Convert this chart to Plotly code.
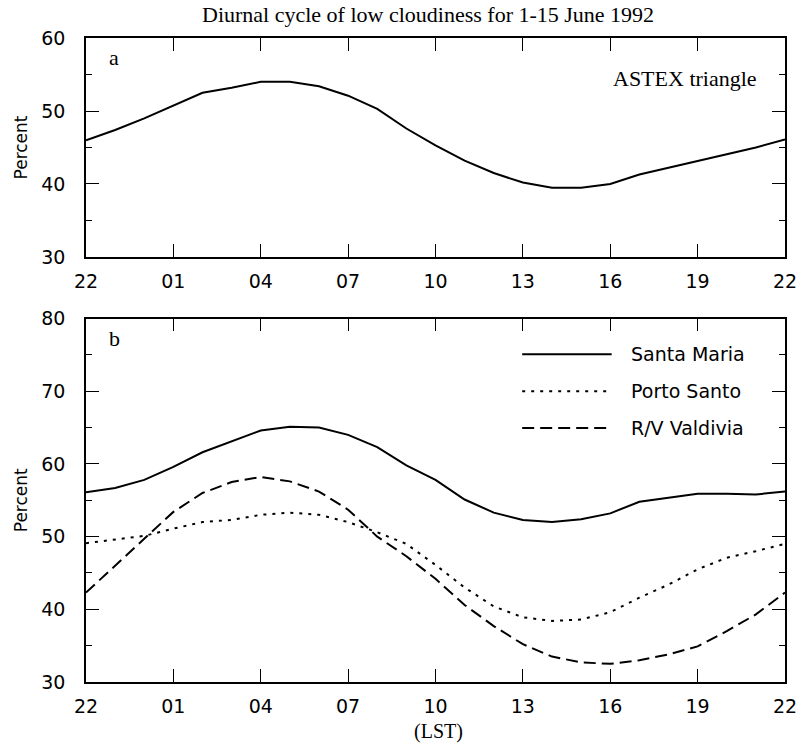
import plotly.graph_objects as go

# Hours since 22 LST (0..24) and their tick labels
hours = list(range(25))
tick_vals = [0, 3, 6, 9, 12, 15, 18, 21, 24]
tick_text = ["22", "01", "04", "07", "10", "13", "16", "19", "22"]

# Panel a: ASTEX triangle low cloudiness (%)
astex = [46.0, 47.4, 49.0, 50.8, 52.5, 53.2, 54.0, 54.0, 53.4, 52.1, 50.3, 47.6,
         45.3, 43.2, 41.5, 40.2, 39.5, 39.5, 40.0, 41.3, 42.2, 43.2, 44.1, 45.0, 46.1]

# Panel b: individual stations (%)
santa_maria = [56.1, 56.7, 57.8, 59.6, 61.6, 63.1, 64.6, 65.1, 65.0, 64.0, 62.3, 59.8,
               57.8, 55.1, 53.3, 52.3, 52.0, 52.4, 53.2, 54.8, 55.4, 55.9, 55.9, 55.8, 56.2]
porto_santo = [49.1, 49.6, 50.1, 51.1, 52.0, 52.3, 53.0, 53.3, 53.0, 52.0, 50.6, 49.0,
               46.1, 43.0, 40.4, 38.9, 38.4, 38.6, 39.6, 41.6, 43.4, 45.5, 47.1, 48.0, 49.0]
valdivia = [42.3, 46.0, 49.7, 53.4, 56.0, 57.5, 58.2, 57.6, 56.2, 53.7, 50.0, 47.3,
            44.2, 40.6, 37.7, 35.2, 33.5, 32.7, 32.5, 33.0, 33.8, 34.9, 37.0, 39.3, 42.3]

# (name, values, line dash) for panel b
series_b = [
    ("Santa Maria", santa_maria, "solid"),
    ("Porto Santo", porto_santo, "3px,6px"),
    ("R/V Valdivia", valdivia, "12px,6px"),
]

SERIF = "Liberation Serif, Times New Roman, serif"
SANS = "DejaVu Sans, sans-serif"

fig = go.Figure()

fig.add_trace(go.Scatter(x=hours, y=astex, mode="lines", xaxis="x", yaxis="y",
                         line=dict(color="black", width=2), showlegend=False))
for name, vals, dash in series_b:
    fig.add_trace(go.Scatter(x=hours, y=vals, mode="lines", xaxis="x2", yaxis="y2",
                             name=name, line=dict(color="black", width=2, dash=dash),
                             showlegend=False))

xcommon = dict(range=[0, 24], tickvals=tick_vals, ticktext=tick_text,
               ticks="inside", ticklen=13, tickwidth=1, tickcolor="black",
               showline=True, linecolor="black", linewidth=1.5, mirror="ticks",
               showgrid=False, zeroline=False, automargin=False,
               ticklabelstandoff=6,
               tickfont=dict(family=SANS, size=19, color="black"))
ycommon = dict(ticks="inside", ticklen=13, tickwidth=1, tickcolor="black",
               showline=True, linecolor="black", linewidth=1.5, mirror="ticks",
               showgrid=False, zeroline=False, automargin=False,
               ticklabelstandoff=15,
               minor=dict(dtick=5, ticks="inside", ticklen=6, tickwidth=1, tickcolor="black"),
               tickfont=dict(family=SANS, size=19, color="black"),
               title=dict(text="Percent", font=dict(family=SANS, size=17, color="black"),
                          standoff=9))

fig.update_layout(
    width=800, height=744,
    margin=dict(l=0, r=0, t=0, b=0, autoexpand=False),
    paper_bgcolor="white", plot_bgcolor="white",
    xaxis=dict(domain=[0.1075, 0.98125], anchor="y", **xcommon),
    yaxis=dict(domain=[0.6546, 0.9489], anchor="x", range=[30, 60], dtick=10, **ycommon),
    xaxis2=dict(domain=[0.1075, 0.98125], anchor="y2", **xcommon),
    yaxis2=dict(domain=[0.0833, 0.5719], anchor="x2", range=[30, 80], dtick=10, **ycommon),
)

annotations = [
    dict(text="Diurnal cycle of low cloudiness for 1-15 June 1992", xref="paper", yref="paper",
         x=428 / 800, y=1 - 15 / 744, xanchor="center", yanchor="middle", showarrow=False,
         font=dict(family=SERIF, size=22, color="black")),
    dict(text="a", xref="x domain", yref="y domain", x=0.03, y=0.913, showarrow=False,
         xanchor="left", yanchor="middle", font=dict(family=SERIF, size=22, color="black")),
    dict(text="ASTEX triangle", xref="x domain", yref="y domain", x=0.963, y=0.817,
         showarrow=False, xanchor="right", yanchor="middle",
         font=dict(family=SERIF, size=22, color="black")),
    dict(text="b", xref="x2 domain", yref="y2 domain", x=0.03, y=0.944, showarrow=False,
         xanchor="left", yanchor="middle", font=dict(family=SERIF, size=22, color="black")),
    dict(text="(LST)", xref="paper", yref="paper", x=439 / 800, y=1 - 731 / 744,
         xanchor="center", yanchor="middle", showarrow=False,
         font=dict(family=SERIF, size=20, color="black")),
]

# Legend drawn inside panel b: line samples with labels
legend_rows = [0.902, 0.80, 0.699]
shapes = []
for (name, _, dash), ry in zip(series_b, legend_rows):
    shapes.append(dict(type="line", xref="x2 domain", yref="y2 domain",
                       x0=0.624, x1=0.752, y0=ry, y1=ry,
                       line=dict(color="black", width=2, dash=dash)))
    annotations.append(dict(text=name, xref="x2 domain", yref="y2 domain",
                            x=0.777, y=ry, xanchor="left", yanchor="middle",
                            showarrow=False,
                            font=dict(family=SANS, size=19, color="black")))

fig.update_layout(annotations=annotations, shapes=shapes)

fig.write_html("out.html")
